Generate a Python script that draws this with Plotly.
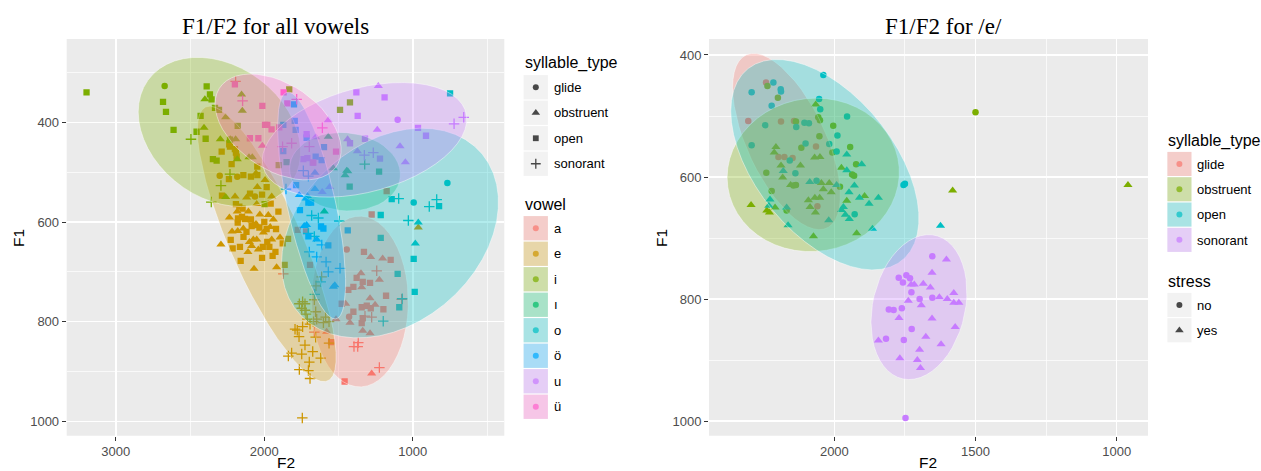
import numpy as np
import plotly.graph_objects as go

W, H = 1261, 471

# ---------------- left panel: F1/F2 for all vowels ----------------
# each point: (F2, F1, syllable_type)  gl=glide ob=obstruent op=open so=sonorant
VOWEL_A = [
    (1459, 920, 'op'), (1277, 904, 'ob'), (1225, 892, 'so'), (1396, 850, 'so'), (1367, 842, 'so'),
    (1371, 850, 'so'), (1580, 820, 'ob'), (1550, 841, 'op'), (1663, 821, 'so'), (1517, 795, 'ob'),
    (1872, 704, 'so'), (1434, 736, 'op'), (1400, 730, 'op'), (1337, 720, 'op'), (1288, 722, 'op'),
    (1180, 748, 'op'), (1198, 775, 'op'), (1344, 771, 'op'), (1337, 793, 'op'), (1344, 803, 'op'),
    (1310, 768, 'op'), (1283, 773, 'op'), (1400, 780, 'op'), (1344, 731, 'ob'), (1225, 716, 'ob'),
    (1288, 753, 'ob'), (1254, 766, 'ob'), (1423, 802, 'ob'), (1337, 818, 'ob'), (1288, 823, 'ob'),
    (1452, 764, 'ob'), (1429, 790, 'gl'), (1322, 789, 'so'), (1277, 791, 'so'), (1479, 764, 'op'),
    (1075, 755, 'so'), (1277, 585, 'op'), (1176, 538, 'op'), (1445, 655, 'gl'), (1329, 660, 'op'),
    (1149, 676, 'op'), (1284, 670, 'ob'), (1203, 673, 'ob'), (1349, 703, 'ob'), (1243, 698, 'so'),
    (1378, 712, 'op'), (1775, 616, 'op'), (1719, 619, 'op'), (1692, 686, 'op'), (2193, 318, 'so'),
]
VOWEL_E = [
    (2236, 444, 'op'), (2231, 449, 'op'), (2198, 454, 'op'), (2186, 469, 'op'),
    (2287, 459, 'op'), (2191, 461, 'op'), (2047, 489, 'op'), (2220, 484, 'op'), (2300, 507, 'gl'),
    (2182, 509, 'gl'), (2238, 514, 'op'), (2141, 506, 'op'), (2090, 509, 'op'), (2047, 506, 'op'),
    (2056, 502, 'ob'), (1995, 516, 'ob'), (2047, 530, 'ob'), (1984, 530, 'op'), (2096, 543, 'op'),
    (2015, 545, 'op'), (2119, 551, 'ob'), (2197, 549, 'ob'), (1950, 549, 'ob'), (2285, 547, 'op'),
    (2063, 549, 'gl'), (2191, 564, 'op'), (2168, 569, 'op'), (2146, 573, 'op'), (1957, 563, 'op'),
    (1905, 579, 'op'), (2051, 564, 'ob'), (2107, 579, 'ob'), (2182, 579, 'ob'), (2235, 591, 'ob'),
    (2177, 593, 'op'), (2130, 594, 'op'), (2179, 601, 'op'), (1973, 586, 'ob'), (1939, 595, 'ob'),
    (2085, 608, 'op'), (2063, 606, 'op'), (2033, 611, 'op'), (1984, 614, 'op'), (1921, 614, 'op'),
    (2141, 613, 'ob'), (2056, 604, 'ob'), (2217, 619, 'ob'), (2179, 618, 'ob'), (2006, 621, 'ob'),
    (2226, 636, 'op'), (2213, 653, 'op'), (2164, 650, 'op'), (2292, 645, 'ob'), (2074, 635, 'ob'),
    (2051, 635, 'ob'), (1950, 635, 'ob'), (1894, 631, 'ob'), (1966, 650, 'op'), (1925, 660, 'op'),
    (1876, 643, 'op'), (1840, 634, 'op'), (1944, 668, 'op'), (2015, 672, 'op'), (2085, 648, 'ob'),
    (2159, 678, 'op'), (1863, 686, 'op'), (2069, 694, 'ob'), (1917, 691, 'ob'),
    (2120, 620, 'op'), (2100, 640, 'ob'), (2000, 600, 'op'), (2030, 585, 'ob'), (2150, 590, 'op'),
    (2010, 650, 'op'), (2110, 660, 'ob'), (1980, 640, 'op'), (2090, 595, 'op'), (2140, 630, 'op'),
    (2040, 655, 'ob'), (1960, 610, 'ob'), (963, 611, 'ob'),
    (1764, 764, 'so'), (1742, 760, 'so'), (1726, 764, 'so'), (1748, 773, 'so'), (1726, 777, 'so'),
    (1663, 756, 'so'), (1719, 785, 'so'), (1654, 780, 'so'), (1710, 795, 'so'), (1647, 795, 'so'),
    (1670, 800, 'so'), (1587, 791, 'so'), (1564, 800, 'so'), (1602, 802, 'so'), (1692, 805, 'so'),
    (1793, 815, 'so'), (1778, 817, 'so'), (1742, 810, 'so'), (1766, 830, 'so'), (1654, 831, 'so'),
    (1726, 847, 'so'), (1564, 843, 'so'), (1816, 863, 'so'), (1838, 869, 'so'), (1748, 865, 'so'),
    (1674, 860, 'so'), (1620, 873, 'so'), (1697, 881, 'so'), (1764, 896, 'so'), (1703, 898, 'so'),
    (1692, 914, 'so'), (1744, 993, 'so'), (1652, 728, 'so'), (1614, 710, 'so'),
]
VOWEL_I = [
    (3197, 340, 'op'), (2671, 327, 'gl'), (2388, 328, 'op'), (2366, 344, 'op'), (2400, 354, 'ob'),
    (2355, 354, 'op'), (2682, 359, 'op'), (2662, 379, 'op'), (2332, 371, 'op'), (2305, 375, 'op'),
    (2260, 390, 'ob'), (2429, 387, 'op'), (2406, 411, 'ob'), (2611, 415, 'op'), (2456, 419, 'op'),
    (2494, 434, 'so'), (2395, 433, 'op'), (2296, 434, 'ob'), (2229, 434, 'ob'), (2193, 434, 'ob'),
    (2231, 435, 'op'), (2182, 474, 'ob'), (2346, 474, 'op'), (2321, 477, 'op'), (2103, 470, 'ob'),
    (2081, 470, 'ob'), (2292, 527, 'so'), (2357, 560, 'so'), (2260, 550, 'ob'), (1998, 564, 'op'),
    (2231, 504, 'so'), (1832, 334, 'op'), (1423, 360, 'op'), (1490, 375, 'op'), (2153, 344, 'ob'),
    (1903, 486, 'op'), (2148, 377, 'ob'), (2179, 407, 'op'),
]
VOWEL_I_DOTLESS = [
    (1569, 429, 'ob'), (1456, 506, 'ob'), (1438, 498, 'ob'), (1425, 529, 'op'), (1227, 499, 'op'),
    (1324, 484, 'so'), (1596, 579, 'ob'), (1535, 492, 'ob'), (1445, 497, 'ob'), (1850, 480, 'op'),
]
VOWEL_O = [
    (767, 522, 'gl'), (994, 561, 'gl'), (1095, 553, 'so'), (889, 569, 'so'), (839, 555, 'so'),
    (823, 568, 'op'), (1142, 554, 'op'), (1030, 597, 'so'), (963, 601, 'ob'), (983, 643, 'ob'),
    (994, 674, 'op'), (1102, 704, 'op'), (987, 740, 'op'), (1216, 586, 'op'), (1216, 632, 'op'),
    (1091, 771, 'op'), (1199, 799, 'so'), (1071, 754, 'so'), (749, 342, 'op'), (1681, 587, 'so'),
    (1636, 592, 'so'), (1704, 623, 'so'), (1663, 629, 'so'), (1495, 598, 'so'),
    (1620, 720, 'so'), (1660, 745, 'so'),
]
VOWEL_OE = [
    (1872, 405, 'op'), (1789, 415, 'op'), (1715, 431, 'op'), (1872, 458, 'op'), (1654, 469, 'op'),
    (1614, 476, 'op'), (1659, 534, 'ob'), (1703, 561, 'op'), (1685, 561, 'op'), (1786, 526, 'op'),
    (1710, 548, 'ob'), (1715, 606, 'ob'), (1602, 613, 'op'), (1703, 629, 'op'), (1647, 635, 'ob'),
    (1703, 508, 'so'), (1737, 497, 'so'), (1854, 534, 'so'), (1764, 546, 'ob'), (1721, 553, 'ob'),
    (1438, 617, 'op'), (1598, 450, 'op'), (1569, 647, 'op'), (1618, 609, 'op'), (1731, 608, 'ob'),
    (1535, 730, 'ob'), (1525, 727, 'ob'), (1659, 501, 'ob'), (1795, 397, 'op'), (1800, 364, 'op'),
    (1569, 700, 'so'), (1490, 693, 'so'), (1760, 576, 'op'),
    (1613, 646, 'so'), (1697, 660, 'so'), (1647, 670, 'so'), (1584, 680, 'so'),
]
VOWEL_U = [
    (1232, 327, 'ob'), (1371, 387, 'op'), (1102, 395, 'gl'), (965, 411, 'op'), (911, 427, 'op'),
    (722, 403, 'so'), (657, 390, 'so'), (1239, 415, 'ob'), (1086, 448, 'ob'), (1439, 434, 'ob'),
    (1423, 442, 'op'), (1322, 433, 'op'), (1373, 458, 'ob'), (1326, 466, 'so'), (1266, 461, 'so'),
    (1221, 473, 'op'), (1710, 472, 'op'), (1674, 481, 'op'), (1737, 474, 'op'), (1715, 424, 'op'),
    (1654, 430, 'ob'), (1610, 540, 'ob'), (1560, 530, 'ob'), (1190, 350, 'op'),
    (1380, 340, 'op'), (1050, 480, 'ob'), (1569, 396, 'ob'),
]
VOWEL_UE = [
    (2198, 324, 'op'), (1870, 340, 'op'), (1845, 362, 'op'), (1782, 354, 'so'),
    (2013, 367, 'op'), (1995, 405, 'op'), (1980, 405, 'op'), (1899, 410, 'op'), (1951, 414, 'op'),
    (2097, 432, 'op'), (2040, 432, 'op'), (2013, 447, 'ob'), (1609, 411, 'so'), (1517, 459, 'op'),
    (1670, 481, 'op'), (1697, 449, 'so'), (1877, 449, 'so'), (1816, 442, 'so'), (2146, 357, 'so'),
]
VOWELS = ['a', 'e', 'i', 'ı', 'o', 'ö', 'u', 'ü']
VOWEL_POINTS = [VOWEL_A, VOWEL_E, VOWEL_I, VOWEL_I_DOTLESS, VOWEL_O, VOWEL_OE, VOWEL_U, VOWEL_UE]
VOWEL_COLORS = ['#F8766D', '#CD9600', '#7CAE00', '#00BE67', '#00BFC4', '#00A9FF', '#C77CFF', '#FF61CC']

# ---------------- right panel: F1/F2 for /e/ ----------------
# each point: (F2, F1, stress)
E_GLIDE = [
    (2242, 445, 'no'), (2305, 508, 'no'), (2189, 509, 'no'), (2143, 508, 'no'), (2065, 550, 'no'),
    (2198, 567, 'no'), (2177, 567, 'no'), (2148, 569, 'no'), (2060, 648, 'no'),
]
E_OBSTRUENT = [
    (2237, 451, 'no'), (2200, 470, 'no'), (2136, 509, 'no'), (2057, 502, 'no'), (2051, 507, 'no'),
    (2004, 516, 'no'), (2053, 533, 'no'), (2117, 552, 'no'), (1944, 551, 'no'), (2007, 560, 'no'),
    (2241, 593, 'no'), (2136, 613, 'no'), (2145, 614, 'no'), (1923, 579, 'no'), (1937, 596, 'no'),
    (1930, 598, 'no'), (2222, 623, 'no'), (1980, 616, 'no'), (2169, 655, 'no'), (1500, 494, 'no'),
    (2066, 481, 'yes'), (2207, 551, 'yes'), (2213, 560, 'yes'), (2070, 568, 'yes'), (2051, 567, 'yes'),
    (2189, 581, 'yes'), (2120, 581, 'yes'), (2183, 601, 'yes'), (1975, 585, 'yes'), (2046, 610, 'yes'),
    (2018, 610, 'yes'), (2155, 613, 'yes'), (2039, 620, 'yes'), (2011, 625, 'yes'), (1893, 631, 'yes'),
    (1956, 639, 'yes'), (2069, 634, 'yes'), (2052, 634, 'yes'), (2092, 638, 'yes'), (2086, 649, 'yes'),
    (2067, 658, 'yes'), (2210, 650, 'yes'), (2295, 646, 'yes'), (2239, 655, 'yes'), (2230, 658, 'yes'),
    (2074, 697, 'yes'), (1921, 692, 'yes'), (960, 613, 'yes'), (1581, 622, 'yes'),
]
E_OPEN = [
    (2039, 433, 'no'), (2216, 445, 'no'), (2293, 461, 'no'), (2190, 456, 'no'), (2189, 460, 'no'),
    (2222, 483, 'no'), (2054, 472, 'no'), (2050, 489, 'no'), (2245, 515, 'no'), (2135, 518, 'no'),
    (2106, 511, 'no'), (2090, 512, 'no'), (1955, 501, 'no'), (1989, 532, 'no'), (2102, 545, 'no'),
    (2018, 546, 'no'), (1992, 558, 'no'), (2293, 548, 'no'), (2158, 573, 'no'), (2138, 594, 'no'),
    (2063, 606, 'no'), (1928, 661, 'no'), (1755, 613, 'no'), (1750, 611, 'no'),
    (2181, 590, 'yes'), (1956, 589, 'yes'), (1903, 579, 'yes'), (1956, 563, 'yes'), (2087, 608, 'yes'),
    (1992, 613, 'yes'), (1948, 625, 'yes'), (1929, 614, 'yes'), (1911, 634, 'yes'), (1844, 634, 'yes'),
    (1877, 644, 'yes'), (1968, 649, 'yes'), (1975, 654, 'yes'), (1961, 662, 'yes'), (1947, 669, 'yes'),
    (2228, 637, 'yes'), (2232, 647, 'yes'), (2169, 650, 'yes'), (2020, 671, 'yes'), (2164, 679, 'yes'),
    (1865, 685, 'yes'), (1624, 680, 'yes'),
]
E_SONORANT = [
    (1653, 730, 'no'), (1772, 765, 'no'), (1745, 761, 'no'), (1732, 766, 'no'), (1757, 773, 'no'),
    (1727, 789, 'no'), (1698, 800, 'no'), (1653, 798, 'no'), (1761, 815, 'no'), (1807, 817, 'no'),
    (1790, 818, 'no'), (1726, 849, 'no'), (1817, 865, 'no'), (1754, 867, 'no'), (1748, 995, 'no'),
    (1603, 735, 'yes'), (1654, 757, 'yes'), (1728, 776, 'yes'), (1717, 776, 'yes'), (1685, 775, 'yes'),
    (1660, 781, 'yes'), (1577, 790, 'yes'), (1738, 803, 'yes'), (1692, 810, 'yes'), (1628, 797, 'yes'),
    (1600, 800, 'yes'), (1577, 806, 'yes'), (1559, 806, 'yes'), (1771, 831, 'yes'), (1654, 832, 'yes'),
    (1572, 846, 'yes'), (1676, 862, 'yes'), (1844, 868, 'yes'), (1622, 874, 'yes'), (1698, 883, 'yes'),
    (1768, 897, 'yes'), (1706, 900, 'yes'), (1695, 913, 'yes'),
]
SYL_NAMES = ['glide', 'obstruent', 'open', 'sonorant']
SYL_CODES = ['gl', 'ob', 'op', 'so']
E_POINTS = [E_GLIDE, E_OBSTRUENT, E_OPEN, E_SONORANT]
SYL_COLORS = ['#F8766D', '#7CAE00', '#00BFC4', '#C77CFF']
STRESS = ['no', 'yes']

# ticks
LEFT_X_TICKS = [3000, 2000, 1000]
LEFT_X_MINOR = [2500, 1500, 500]
LEFT_Y_TICKS = [400, 600, 800, 1000]
LEFT_Y_MINOR = [300, 500, 700, 900]
RIGHT_X_TICKS = [2000, 1500, 1000]
RIGHT_X_MINOR = [1750, 1250]
RIGHT_Y_TICKS = [400, 600, 800, 1000]
RIGHT_Y_MINOR = [500, 700, 900]

# ---------------- styling ----------------
SANS = 'Liberation Sans, Arial, sans-serif'
SERIF = 'Liberation Serif, Times New Roman, serif'
SYMBOL = {'gl': 'circle', 'ob': 'triangle-up', 'op': 'square', 'so': 'cross-thin',
          'no': 'circle', 'yes': 'triangle-up'}
MSIZE = {'circle': 6.5, 'triangle-up': 8, 'square': 6.3, 'cross-thin': 7.5}


def rgba(hx, a):
    hx = hx.lstrip('#')
    return 'rgba(%d,%d,%d,%s)' % (int(hx[0:2], 16), int(hx[2:4], 16), int(hx[4:6], 16), a)


def marker(sym, color):
    m = dict(symbol=sym, size=MSIZE[sym], color=color, opacity=1)
    if sym == 'cross-thin':
        m['line'] = dict(color=color, width=1.3)
    else:
        m['line'] = dict(width=0)
    return m


def cov_trob(x, nu=5, maxit=25, tol=0.01):
    # robust multivariate-t covariance (as MASS::cov.trob, used by ggplot2 stat_ellipse)
    n, p = x.shape
    loc = x.mean(axis=0)
    w = np.ones(n)
    X = x - loc
    for _ in range(maxit):
        w0 = w
        X = x - loc
        _, d, vt = np.linalg.svd(np.sqrt(w / w.sum())[:, None] * X, full_matrices=False)
        wX = (X @ vt.T) / d
        Q = (wX ** 2).sum(axis=1)
        w = (nu + p) / (nu + Q)
        loc = (w[:, None] * x).sum(axis=0) / w.sum()
        if np.all(np.abs(w - w0) < tol):
            break
    sx = np.sqrt(w)[:, None] * X
    return loc, sx.T @ sx / n


def stat_ellipse(xs, ys, level=0.95, segments=51):
    x = np.column_stack([xs, ys]).astype(float)
    n = len(x)
    dfd = n - 1
    loc, cov = cov_trob(x)
    R = np.linalg.cholesky(cov).T
    qf = dfd / 2.0 * ((1 - level) ** (-2.0 / dfd) - 1)
    radius = np.sqrt(2 * qf)
    ang = np.arange(segments + 1) * 2 * np.pi / segments
    uc = np.column_stack([np.cos(ang), np.sin(ang)])
    e = loc + radius * (uc @ R)
    return e[:, 0], e[:, 1]


fig = go.Figure()

# left: points
for v, pts, col in zip(VOWELS, VOWEL_POINTS, VOWEL_COLORS):
    for code in SYL_CODES:
        sel = [p for p in pts if p[2] == code]
        if not sel:
            continue
        fig.add_trace(go.Scatter(x=[p[0] for p in sel], y=[p[1] for p in sel], mode='markers',
                                 marker=marker(SYMBOL[code], col), xaxis='x', yaxis='y',
                                 showlegend=False, hoverinfo='skip'))
# left: ellipses
for v, pts, col in zip(VOWELS, VOWEL_POINTS, VOWEL_COLORS):
    ex, ey = stat_ellipse([p[0] for p in pts], [p[1] for p in pts])
    fig.add_trace(go.Scatter(x=ex, y=ey, mode='lines', fill='toself', fillcolor=rgba(col, 0.3),
                             line=dict(color='rgba(255,255,255,0.55)', width=0.8),
                             xaxis='x', yaxis='y', showlegend=False, hoverinfo='skip'))

# right: points
for name, pts, col in zip(SYL_NAMES, E_POINTS, SYL_COLORS):
    for s in STRESS:
        sel = [p for p in pts if p[2] == s]
        if not sel:
            continue
        fig.add_trace(go.Scatter(x=[p[0] for p in sel], y=[p[1] for p in sel], mode='markers',
                                 marker=marker(SYMBOL[s], col), xaxis='x2', yaxis='y2',
                                 showlegend=False, hoverinfo='skip'))
for name, pts, col in zip(SYL_NAMES, E_POINTS, SYL_COLORS):
    ex, ey = stat_ellipse([p[0] for p in pts], [p[1] for p in pts])
    fig.add_trace(go.Scatter(x=ex, y=ey, mode='lines', fill='toself', fillcolor=rgba(col, 0.3),
                             line=dict(color='rgba(255,255,255,0.55)', width=0.8),
                             xaxis='x2', yaxis='y2', showlegend=False, hoverinfo='skip'))

# ---------------- panels / axes ----------------
L_PANEL = (66.7, 504.3, 39, 435.7)
R_PANEL = (709.0, 1148.0, 39, 435.7)


def dom_x(p):
    return [p[0] / W, p[1] / W]


def dom_y(p):
    return [1 - p[3] / H, 1 - p[2] / H]


def xaxis(panel, rng, ticks, minor, anchor):
    return dict(domain=dom_x(panel), range=rng, anchor=anchor, tickmode='array', tickvals=ticks,
                ticktext=[str(t) for t in ticks], showgrid=True, gridcolor='white', gridwidth=1.5,
                minor=dict(tickvals=minor, showgrid=True, gridcolor='white', gridwidth=0.7, ticks=''),
                ticks='outside', ticklen=4, tickwidth=1, tickcolor='#333333',
                tickfont=dict(family=SANS, size=13, color='#4D4D4D'), zeroline=False,
                showline=False, fixedrange=True)


def yaxis(panel, rng, ticks, minor, anchor):
    d = xaxis(panel, rng, ticks, minor, anchor)
    d['domain'] = dom_y(panel)
    return d


shapes = []
for p in (L_PANEL, R_PANEL):
    shapes.append(dict(type='rect', xref='paper', yref='paper', x0=p[0] / W, x1=p[1] / W,
                       y0=1 - p[3] / H, y1=1 - p[2] / H, fillcolor='#EBEBEB', line=dict(width=0),
                       layer='below'))

annotations = []


def text(x, y, s, size, xanchor='left', family=SANS, angle=0, color='black'):
    annotations.append(dict(x=x, y=y, xref='x3', yref='y3', text=s, showarrow=False,
                            xanchor=xanchor, yanchor='middle', textangle=angle,
                            font=dict(family=family, size=size, color=color)))


# titles and axis titles
text(275, 26, 'F1/F2 for all vowels', 23, 'center', SERIF)
text(943, 26, 'F1/F2 for /e/', 23, 'center', SERIF)
text(286, 462, 'F2', 15.5, 'center')
text(928, 462, 'F2', 15.5, 'center')
text(18, 238, 'F1', 15.5, 'center', angle=-90)
text(661, 238, 'F1', 15.5, 'center', angle=-90)

# ---------------- legends (drawn on a full-figure pixel overlay) ----------------
leg_x, leg_y, leg_sym, leg_col = [], [], [], []


def key_cell(x0, y0, w, h, fill=None):
    shapes.append(dict(type='rect', xref='x3', yref='y3', x0=x0 + 0.6, x1=x0 + w - 0.6,
                       y0=y0 + 0.6, y1=y0 + h - 0.6, fillcolor='#F2F2F2', line=dict(width=0),
                       layer='below'))
    if fill:
        shapes.append(dict(type='rect', xref='x3', yref='y3', x0=x0 + 0.6, x1=x0 + w - 0.6,
                           y0=y0 + 0.6, y1=y0 + h - 0.6, fillcolor=fill, line=dict(width=0),
                           layer='below'))


def add_key_marker(x, y, sym, col):
    leg_x.append(x)
    leg_y.append(y)
    leg_sym.append(sym)
    leg_col.append(col)


# left legend: syllable_type
text(522.5, 63, 'syllable_type', 16)
for k, (name, code) in enumerate(zip(SYL_NAMES, SYL_CODES)):
    y0 = 74.5 + k * 25.5
    key_cell(523, y0, 25.5, 25.5)
    add_key_marker(535.8, y0 + 12.75, SYMBOL[code], 'black')
    text(551.5, y0 + 12.9, name, 13)
# left legend: vowel
text(522.5, 204.5, 'vowel', 16)
for k, (v, col) in enumerate(zip(VOWELS, VOWEL_COLORS)):
    y0 = 215.5 + k * 25.5
    key_cell(523, y0, 25.5, 25.5, rgba(col, 0.3))
    add_key_marker(535.8, y0 + 12.75, 'circle', col)
    text(551.5, y0 + 12.9, v, 13)

# right legend: syllable_type
text(1166, 141, 'syllable_type', 16)
for k, (name, col) in enumerate(zip(SYL_NAMES, SYL_COLORS)):
    y0 = 151.3 + k * 25.3
    key_cell(1166.8, y0, 25.3, 25.3, rgba(col, 0.3))
    add_key_marker(1179.4, y0 + 12.65, 'circle', col)
    text(1195, y0 + 12.8, name, 13)
# right legend: stress
text(1166, 281, 'stress', 16)
for k, s in enumerate(STRESS):
    y0 = 292.3 + k * 25.3
    key_cell(1166.8, y0, 25.3, 25.3)
    add_key_marker(1179.4, y0 + 12.65, SYMBOL[s], 'black')
    text(1195, y0 + 12.8, s, 13)

fig.add_trace(go.Scatter(
    x=leg_x, y=leg_y, mode='markers', xaxis='x3', yaxis='y3', showlegend=False, hoverinfo='skip',
    marker=dict(symbol=leg_sym, color=leg_col,
                size=[MSIZE[s] - 0.5 for s in leg_sym],
                line=dict(color=leg_col, width=[1.3 if s == 'cross-thin' else 0 for s in leg_sym]))))

fig.update_layout(
    width=W, height=H, margin=dict(l=0, r=0, t=0, b=0), autosize=False,
    paper_bgcolor='white', plot_bgcolor='rgba(0,0,0,0)', showlegend=False,
    xaxis=xaxis(L_PANEL, [3330.6, 383.8], LEFT_X_TICKS, LEFT_X_MINOR, 'y'),
    yaxis=yaxis(L_PANEL, [1028.7, 232.9], LEFT_Y_TICKS, LEFT_Y_MINOR, 'x'),
    xaxis2=xaxis(R_PANEL, [2444, 889], RIGHT_X_TICKS, RIGHT_X_MINOR, 'y2'),
    yaxis2=yaxis(R_PANEL, [1024, 373.8], RIGHT_Y_TICKS, RIGHT_Y_MINOR, 'x2'),
    xaxis3=dict(domain=[0, 1], range=[0, W], anchor='y3', visible=False, fixedrange=True),
    yaxis3=dict(domain=[0, 1], range=[H, 0], anchor='x3', visible=False, fixedrange=True),
    shapes=shapes, annotations=annotations,
)

fig.write_html('out.html', config={'displayModeBar': False, 'staticPlot': True},
               post_script="document.body.style.margin='0px';document.body.style.overflow='hidden';")
